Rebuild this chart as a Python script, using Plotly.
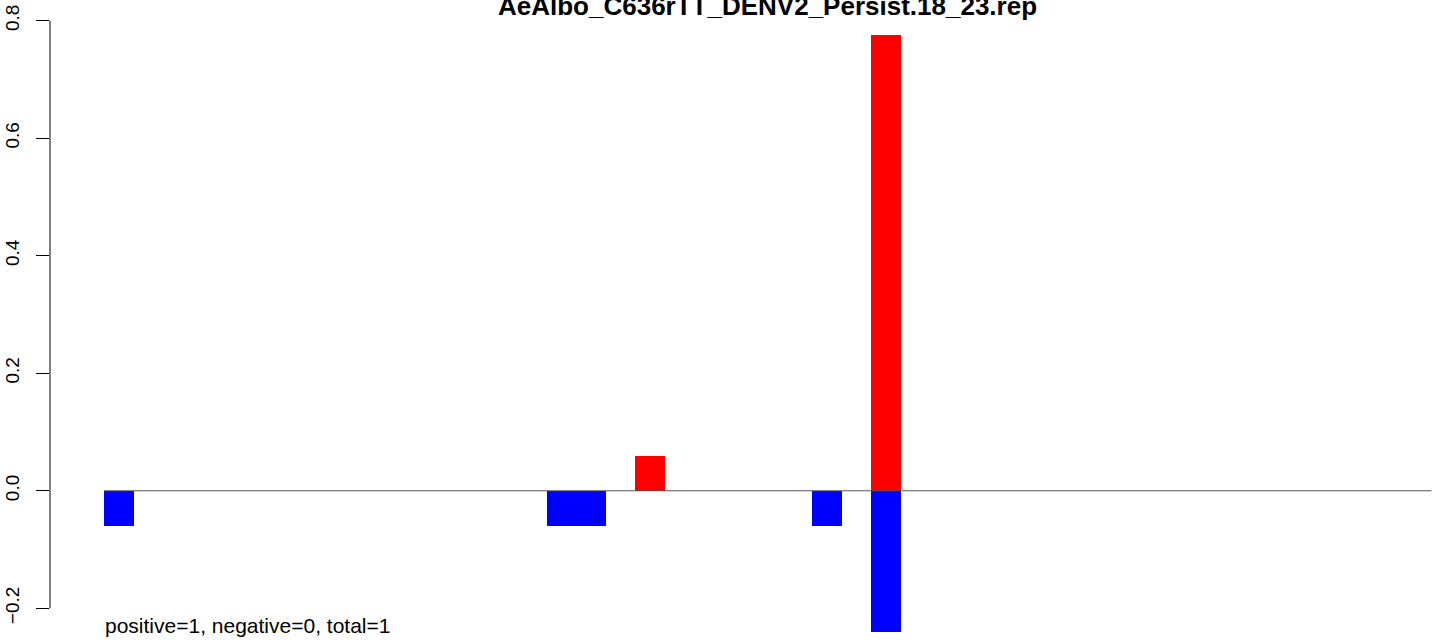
import plotly.graph_objects as go

# ---- data ----
n_bins = 45
pos_index = [18, 26]
pos_values = [0.06, 0.776]
neg_index = [0, 15, 16, 24, 26]
neg_values = [-0.06, -0.06, -0.06, -0.06, -0.24]
y_ticks = [-0.2, 0.0, 0.2, 0.4, 0.6, 0.8]
y_ticktext = ["\u22120.2", "0.0", "0.2", "0.4", "0.6", "0.8"]
title_text = "AeAlbo_C636rTT_DENV2_Persist.18_23.rep"
footer_text = "positive=1, negative=0, total=1"

FONT = "Liberation Sans, Arial, Helvetica, sans-serif"

fig = go.Figure()
fig.add_trace(go.Bar(x=[i + 0.5 for i in neg_index], y=neg_values, width=1,
                     marker=dict(color="#0000FF", line=dict(width=0)), showlegend=False))
fig.add_trace(go.Bar(x=[i + 0.5 for i in pos_index], y=pos_values, width=1,
                     marker=dict(color="#FF0000", line=dict(width=0)), showlegend=False))

# zero line
fig.add_shape(type="line", xref="x", yref="y", x0=0, x1=n_bins, y0=0, y1=0,
              line=dict(color="#555555", width=1), layer="above")
# y axis line (R style, only spanning tick range)
fig.add_shape(type="line", xref="paper", yref="y", x0=0, x1=0,
              y0=min(y_ticks), y1=max(y_ticks),
              line=dict(color="black", width=1), layer="above")

fig.add_annotation(text="<b>" + title_text + "</b>", xref="x", yref="paper",
                   x=n_bins / 2, y=1, xanchor="center", yanchor="middle", yshift=-6,
                   showarrow=False, borderpad=0,
                   font=dict(family=FONT, size=26, color="black"))
fig.add_annotation(text=footer_text, xref="x", yref="paper",
                   x=0, y=0, xanchor="left", yanchor="middle", yshift=18,
                   showarrow=False, borderpad=0,
                   font=dict(family=FONT, size=21, color="black"))

px_per_unit = 587.6
y_top = 0.8 + 20.7 / px_per_unit
y_bot = -0.2 - (643 - 608.3) / px_per_unit

fig.update_layout(
    width=1444, height=643,
    margin=dict(l=50, r=0, t=0, b=0, autoexpand=False),
    paper_bgcolor="white", plot_bgcolor="white",
    barmode="relative", bargap=0,
    xaxis=dict(range=[-54 / 29.5, 1340 / 29.5], visible=False, showgrid=False,
               zeroline=False, automargin=False),
    yaxis=dict(range=[y_bot, y_top], tickvals=y_ticks, ticktext=y_ticktext,
               ticks="outside", ticklen=13, tickwidth=1, tickcolor="black",
               tickangle=-90, showgrid=False, zeroline=False, showline=False,
               automargin=False, ticklabelstandoff=9,
               tickfont=dict(family=FONT, size=19, color="black")),
)

fig.write_html("out.html", config={"displayModeBar": False},
               post_script="document.body.style.margin='0';document.body.style.overflow='hidden';")
